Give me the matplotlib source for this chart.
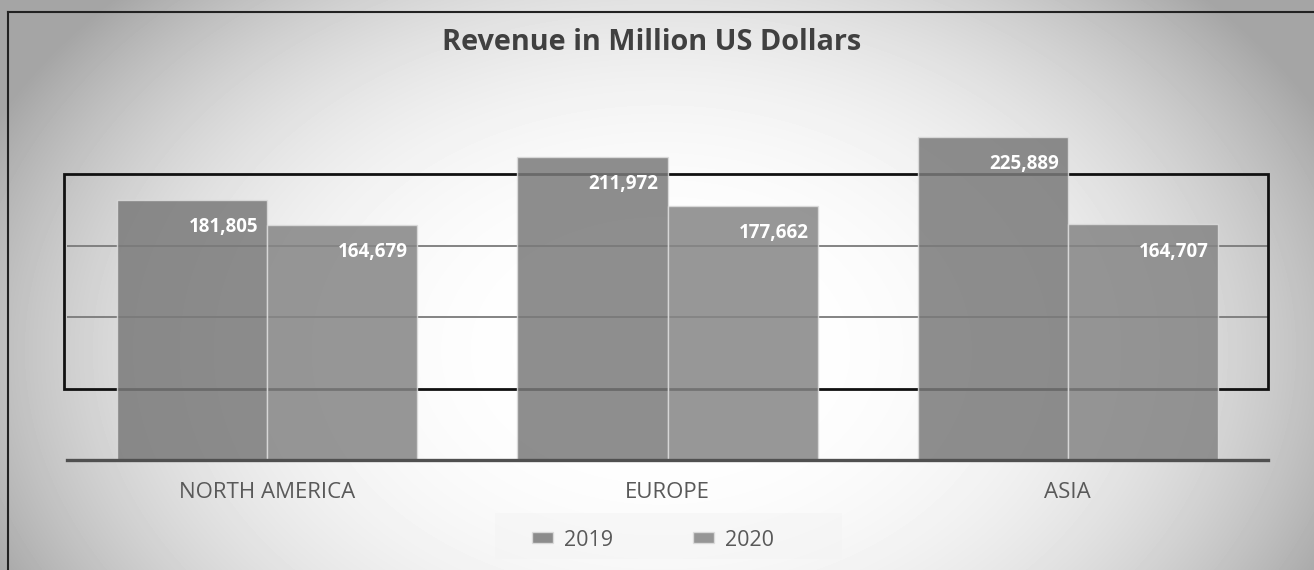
import numpy as np
import matplotlib
matplotlib.use("Agg")
import matplotlib.pyplot as plt
from matplotlib.patches import Rectangle
from matplotlib.lines import Line2D

plt.rcParams['font.family'] = ['Open Sans', 'DejaVu Sans']

regions = ['NORTH AMERICA', 'EUROPE', 'ASIA']
years = ['2019', '2020']
rev_2019 = [181805, 211972, 225889]
rev_2020 = [164679, 177662, 164707]
bar_colors = ['#7a7a7a', '#858585']

W, H = 1314, 570
fig = plt.figure(figsize=(W / 100, H / 100), dpi=100)

# radial grey background
bg = fig.add_axes([0, 0, 1, 1], zorder=-10)
yy, xx = np.mgrid[0:H, 0:W]
d = np.sqrt(((xx - 660) / 740.0) ** 2 + ((yy - 350) / 520.0) ** 2)
val = 255 - 90 * np.clip(d, 0, 1) ** 2.8
bg.imshow(val, cmap='gray', vmin=0, vmax=255, aspect='auto', extent=[0, W, H, 0])
bg.set_xlim(0, W)
bg.set_ylim(H, 0)
bg.axis('off')

# outer frame (top and left edges visible)
fig.add_artist(Line2D([8 / W, 1], [1 - 12 / H, 1 - 12 / H], color='#222222', lw=1.5, transform=fig.transFigure))
fig.add_artist(Line2D([8 / W, 8 / W], [0, 1 - 12 / H], color='#222222', lw=1.5, transform=fig.transFigure))

ax = fig.add_axes([67 / W, (H - 460) / H, (1268 - 67) / W, 357.5 / H])
ax.set_facecolor('none')
x = np.arange(len(regions))
bw = 0.375
ax.set_xlim(-0.5, 2.5)
ax.set_ylim(0, 250000)

# grid lines and black box
for g in [100000, 150000]:
    ax.axhline(g, color='#7a7a7a', lw=1.3, zorder=1)
ax.add_patch(Rectangle((-0.508, 50000), 3.008, 150000, fill=False, ec='#111111', lw=2.0, zorder=1, clip_on=False))

b1 = ax.bar(x - bw / 2, rev_2019, bw, color=bar_colors[0], alpha=0.85, ec='#dddddd', lw=1.0, label=years[0], zorder=2)
b2 = ax.bar(x + bw / 2, rev_2020, bw, color=bar_colors[1], alpha=0.85, ec='#dddddd', lw=1.0, label=years[1], zorder=2)

for bars, vals in [(b1, rev_2019), (b2, rev_2020)]:
    for r, v in zip(bars, vals):
        ax.annotate(f'{v:,}', xy=(r.get_x() + r.get_width(), v), xytext=(-6.5, -19.5),
                    textcoords='offset points', ha='right', va='center',
                    color='white', fontsize=13.5, fontweight='bold', zorder=3)

ax.axhline(0, color='#505050', lw=2.4, zorder=3, clip_on=False)
for s in ax.spines.values():
    s.set_visible(False)
ax.set_yticks([])
ax.set_xticks(x)
ax.set_xticklabels(regions, fontsize=16, color='#595959')
ax.tick_params(axis='x', length=0, pad=16)

fig.text(652 / W, 1 - 42 / H, 'Revenue in Million US Dollars', ha='center', va='center',
         fontsize=20.8, fontweight='bold', color='#404040')

# legend box behind the entries
fig.add_artist(Rectangle((495 / W, 1 - 559 / H), 347 / W, 46 / H, transform=fig.transFigure,
                         fc='#f4f4f4', alpha=0.55, ec='none', zorder=0))
leg = fig.legend(handles=[b1, b2], labels=years, loc='center', bbox_to_anchor=(653 / W, 1 - 540 / H),
                 ncol=2, frameon=False, fontsize=15.5, handlelength=1.0, handleheight=0.38,
                 handletextpad=0.5, columnspacing=3.7, borderpad=0.3)
for t in leg.get_texts():
    t.set_color('#595959')

fig.savefig('out.png', dpi=100)
